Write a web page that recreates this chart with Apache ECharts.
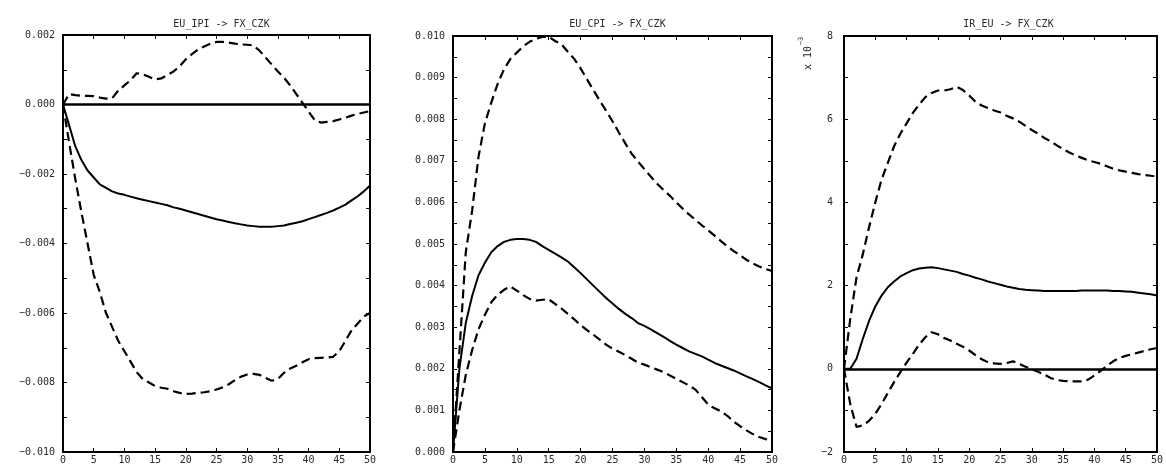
<!DOCTYPE html>
<html>
<head>
<meta charset="utf-8">
<script src="https://cdn.jsdelivr.net/npm/echarts@6/dist/echarts.min.js"></script>
<style>
  html, body { margin: 0; padding: 0; background: #fff; }
  #chart { width: 1166px; height: 465px; }
</style>
</head>
<body>
<div id="chart"></div>
<script>
// Impulse responses of FX_CZK over 0..50 periods: point estimate and bands.
const horizons = [0,1,2,3,4,5,6,7,8,9,10,11,12,13,14,15,16,17,18,19,20,21,22,23,24,25,
  26,27,28,29,30,31,32,33,34,35,36,37,38,39,40,41,42,43,44,45,46,47,48,49,50];

const panelTitles = ['EU_IPI -> FX_CZK', 'EU_CPI -> FX_CZK', 'IR_EU -> FX_CZK'];
const xTicks = [0, 5, 10, 15, 20, 25, 30, 35, 40, 45, 50];
const ipiTicks = [-0.010, -0.008, -0.006, -0.004, -0.002, 0.000, 0.002];
const cpiTicks = [0.000, 0.001, 0.002, 0.003, 0.004, 0.005, 0.006, 0.007, 0.008, 0.009, 0.010];
const irTicks = [-2, 0, 2, 4, 6, 8];

// EU_IPI -> FX_CZK
const ipiMid = [0, -0.0006, -0.0012, -0.0016, -0.0019, -0.0021, -0.0023, -0.0024, -0.0025, -0.00256,
  -0.0026, -0.00265, -0.0027, -0.00274, -0.00278, -0.00282, -0.00286, -0.0029, -0.00296, -0.003,
  -0.00305, -0.0031, -0.00315, -0.0032, -0.00325, -0.0033, -0.00334, -0.00338, -0.00342, -0.00345,
  -0.00348, -0.0035, -0.00352, -0.00352, -0.00352, -0.0035, -0.00348, -0.00344, -0.0034, -0.00336,
  -0.0033, -0.00324, -0.00318, -0.00312, -0.00305, -0.00297, -0.00288, -0.00276, -0.00264, -0.0025,
  -0.00233];
const ipiHi = [0, 0.0003, 0.00027, 0.00025, 0.00025, 0.00024, 0.0002, 0.00017, 0.00018, 0.0004,
  0.00055, 0.0007, 0.0009, 0.00087, 0.0008, 0.00072, 0.00075, 0.00085, 0.00095, 0.0011,
  0.0013, 0.00145, 0.00158, 0.00167, 0.00175, 0.0018, 0.0018, 0.00178, 0.00175, 0.00173,
  0.00172, 0.0017, 0.00155, 0.00135, 0.00115, 0.00095, 0.00077, 0.00055, 0.0003, 0.00005,
  -0.0002, -0.00045, -0.00052, -0.0005, -0.00048, -0.00043, -0.00038, -0.00032, -0.00027, -0.00023,
  -0.00019];
const ipiLo = [0, -0.0011, -0.00214, -0.0031, -0.004, -0.0049, -0.0054, -0.006, -0.0064, -0.0068,
  -0.0071, -0.0074, -0.0077, -0.0079, -0.008, -0.0081, -0.00815, -0.00818, -0.00825, -0.0083,
  -0.00833, -0.00832, -0.0083, -0.00828, -0.00825, -0.0082, -0.00814, -0.00805, -0.00793, -0.00783,
  -0.00777, -0.00775, -0.00778, -0.00787, -0.00795, -0.0079, -0.00772, -0.0076, -0.00752, -0.00742,
  -0.00733, -0.0073, -0.00729, -0.00728, -0.00726, -0.0071, -0.0068, -0.0065, -0.0063, -0.0061,
  -0.006];

// EU_CPI -> FX_CZK
const cpiMid = [0, 0.002, 0.0031, 0.00375, 0.00425, 0.00455, 0.0048, 0.00495, 0.00505, 0.0051,
  0.00512, 0.00512, 0.0051, 0.00505, 0.00495, 0.00486, 0.00477, 0.00468, 0.00458, 0.00444,
  0.0043, 0.00415, 0.004, 0.00385, 0.0037, 0.00357, 0.00344, 0.00332, 0.00322, 0.0031,
  0.00303, 0.00295, 0.00286, 0.00277, 0.00267, 0.00258, 0.0025, 0.00242, 0.00236, 0.0023,
  0.00222, 0.00214, 0.00208, 0.00202, 0.00196, 0.00189, 0.00182, 0.00175, 0.00168, 0.0016,
  0.00153];
const cpiHi = [0, 0.0024, 0.0048, 0.0058, 0.0071, 0.0079, 0.0084, 0.00885, 0.0092, 0.00945,
  0.0096, 0.00975, 0.00986, 0.00993, 0.00998, 0.00998, 0.00988, 0.0098, 0.00962, 0.00945,
  0.00922, 0.00896, 0.0087, 0.00845, 0.0082, 0.00795, 0.00768, 0.00742, 0.00717, 0.00698,
  0.0068, 0.00662, 0.00645, 0.0063, 0.00616, 0.006, 0.00585, 0.00571, 0.00558, 0.00545,
  0.00533, 0.0052, 0.00507, 0.00494, 0.00483, 0.00473, 0.00462, 0.00453, 0.00446, 0.0044,
  0.00435];
const cpiLo = [0, 0.001, 0.00185, 0.00245, 0.00295, 0.0033, 0.0036, 0.00378, 0.0039, 0.00398,
  0.00388, 0.00377, 0.00368, 0.00364, 0.00366, 0.00367, 0.00356, 0.00345, 0.00332, 0.00319,
  0.00305, 0.00293, 0.00282, 0.0027, 0.00258, 0.00248, 0.00241, 0.00233, 0.00224, 0.00215,
  0.0021, 0.00204, 0.00198, 0.00192, 0.00184, 0.00176, 0.00168, 0.0016, 0.0015, 0.00132,
  0.00114, 0.00105, 0.00098, 0.00087, 0.00073, 0.00062, 0.00052, 0.00043, 0.00036, 0.00031,
  0.00027];

// IR_EU -> FX_CZK, in units of 10^-3
const irMid = [0, 0.0, 0.24, 0.72, 1.15, 1.5, 1.76, 1.96, 2.1, 2.22,
  2.3, 2.37, 2.41, 2.43, 2.44, 2.42, 2.39, 2.36, 2.33, 2.28,
  2.24, 2.19, 2.15, 2.1, 2.06, 2.02, 1.98, 1.95, 1.92, 1.9,
  1.89, 1.88, 1.87, 1.87, 1.87, 1.87, 1.87, 1.87, 1.88, 1.88,
  1.88, 1.88, 1.88, 1.87, 1.87, 1.86, 1.85, 1.83, 1.81, 1.79,
  1.76];
const irHi = [0, 1.2, 2.2, 2.75, 3.4, 4.0, 4.55, 4.95, 5.35, 5.65,
  5.9, 6.15, 6.35, 6.53, 6.63, 6.69, 6.69, 6.72, 6.78, 6.7,
  6.57, 6.42, 6.33, 6.27, 6.21, 6.16, 6.08, 6.02, 5.94, 5.84,
  5.74, 5.65, 5.55, 5.47, 5.37, 5.28, 5.2, 5.13, 5.07, 5.01,
  4.97, 4.93, 4.87, 4.81, 4.77, 4.74, 4.71, 4.68, 4.66, 4.64,
  4.62];
const irLo = [0, -0.85, -1.4, -1.36, -1.25, -1.08, -0.85, -0.58, -0.32, -0.08,
  0.15, 0.36, 0.58, 0.76, 0.88, 0.83, 0.74, 0.68, 0.6, 0.53,
  0.44, 0.33, 0.23, 0.16, 0.13, 0.12, 0.14, 0.18, 0.12, 0.05,
  -0.01, -0.07, -0.14, -0.22, -0.27, -0.29, -0.3, -0.3, -0.3, -0.26,
  -0.16, -0.05, 0.07, 0.18, 0.26, 0.31, 0.35, 0.39, 0.43, 0.47,
  0.5];

const FONT = 'DejaVu Sans Mono';
const INK = '#000';
const TEXT = '#2a2a2a';

function pairs(vals) { return horizons.map((h, i) => [h, vals[i]]); }
function minusFmt(s) { return s.replace('-', '\u2212'); }

const panels = [
  { left: 63, width: 307, top: 35, height: 420, ticks: ipiTicks, minorSplit: 2, labelMargin: 8,
    fmt: v => minusFmt((Math.abs(v) < 1e-12 ? 0 : v).toFixed(3)),
    mid: ipiMid, hi: ipiHi, lo: ipiLo, zeroLine: true },
  { left: 453, width: 319, top: 36, height: 417, ticks: cpiTicks, minorSplit: 2, labelMargin: 8,
    fmt: v => (Math.abs(v) < 1e-12 ? 0 : v).toFixed(3),
    mid: cpiMid, hi: cpiHi, lo: cpiLo, zeroLine: false },
  { left: 844, width: 319, top: 36, height: 417, ticks: irTicks, minorSplit: 2, labelMargin: 11,
    fmt: v => minusFmt(String(Math.round(v))),
    mid: irMid, hi: irHi, lo: irLo, zeroLine: true }
];

const grid = [], xAxis = [], yAxis = [], series = [], title = [];

panels.forEach((p, k) => {
  grid.push({ left: p.left, top: p.top, width: p.width, height: p.height,
    show: true, borderColor: INK, borderWidth: 2, backgroundColor: '#fff' });
  title.push({ text: panelTitles[k], left: p.left + p.width / 2, top: 14, textAlign: 'center',
    textStyle: { fontFamily: FONT, fontSize: 10, fontWeight: 'normal', color: TEXT } });

  const tmin = p.ticks[0], tmax = p.ticks[p.ticks.length - 1];
  const tstep = p.ticks[1] - p.ticks[0];
  const xCommon = { type: 'value', gridIndex: k, min: xTicks[0], max: xTicks[xTicks.length - 1],
    interval: xTicks[1] - xTicks[0], splitLine: { show: false },
    axisLine: { show: true, onZero: false, lineStyle: { color: INK, width: 2 } },
    axisTick: { show: true, inside: true, length: 4, lineStyle: { color: INK, width: 1 } } };
  xAxis.push(Object.assign({}, xCommon, { position: 'bottom',
    axisLabel: { show: true, margin: 3, fontFamily: FONT, fontSize: 10, color: TEXT,
      showMinLabel: true, showMaxLabel: true } }));
  xAxis.push(Object.assign({}, xCommon, { position: 'top', axisLabel: { show: false } }));

  const yCommon = { type: 'value', gridIndex: k, min: tmin, max: tmax, interval: tstep,
    splitLine: { show: false }, minorSplitLine: { show: false },
    axisLine: { show: true, onZero: false, lineStyle: { color: INK, width: 2 } },
    axisTick: { show: true, inside: true, length: 4, lineStyle: { color: INK, width: 1 } },
    minorTick: { show: true, splitNumber: p.minorSplit, length: 4, lineStyle: { color: INK, width: 1 } } };
  yAxis.push(Object.assign({}, yCommon, { position: 'left',
    axisLabel: { show: true, margin: p.labelMargin, fontFamily: FONT, fontSize: 10, color: TEXT,
      formatter: p.fmt, showMinLabel: true, showMaxLabel: true } }));
  yAxis.push(Object.assign({}, yCommon, { position: 'right', axisLabel: { show: false } }));

  const base = { type: 'line', xAxisIndex: 2 * k, yAxisIndex: 2 * k, showSymbol: false,
    symbol: 'none', animation: false, clip: true, z: 3 };
  series.push(Object.assign({}, base, { name: 'mid', data: pairs(p.mid),
    lineStyle: { color: INK, width: 2, type: 'solid' } }));
  series.push(Object.assign({}, base, { name: 'upper', data: pairs(p.hi),
    lineStyle: { color: INK, width: 2.2, type: [9, 5] } }));
  series.push(Object.assign({}, base, { name: 'lower', data: pairs(p.lo),
    lineStyle: { color: INK, width: 2.2, type: [9, 5] },
    markLine: p.zeroLine ? { silent: true, symbol: 'none', label: { show: false }, animation: false,
      lineStyle: { color: INK, width: 2.5, type: 'solid' }, data: [{ yAxis: 0 }] } : undefined }));
});

const chart = echarts.init(document.getElementById('chart'), null, { renderer: 'canvas' });
chart.setOption({
  animation: false,
  backgroundColor: '#fff',
  title, grid, xAxis, yAxis, series,
  graphic: [
    { type: 'text', x: 808, y: 58, rotation: Math.PI / 2,
      style: { text: 'x 10', fontFamily: FONT, fontSize: 10, fill: TEXT, textAlign: 'center', textVerticalAlign: 'middle' } },
    { type: 'text', x: 801, y: 41, rotation: Math.PI / 2,
      style: { text: '\u22123', fontFamily: FONT, fontSize: 7, fill: TEXT, textAlign: 'center', textVerticalAlign: 'middle' } }
  ]
});
</script>
</body>
</html>
